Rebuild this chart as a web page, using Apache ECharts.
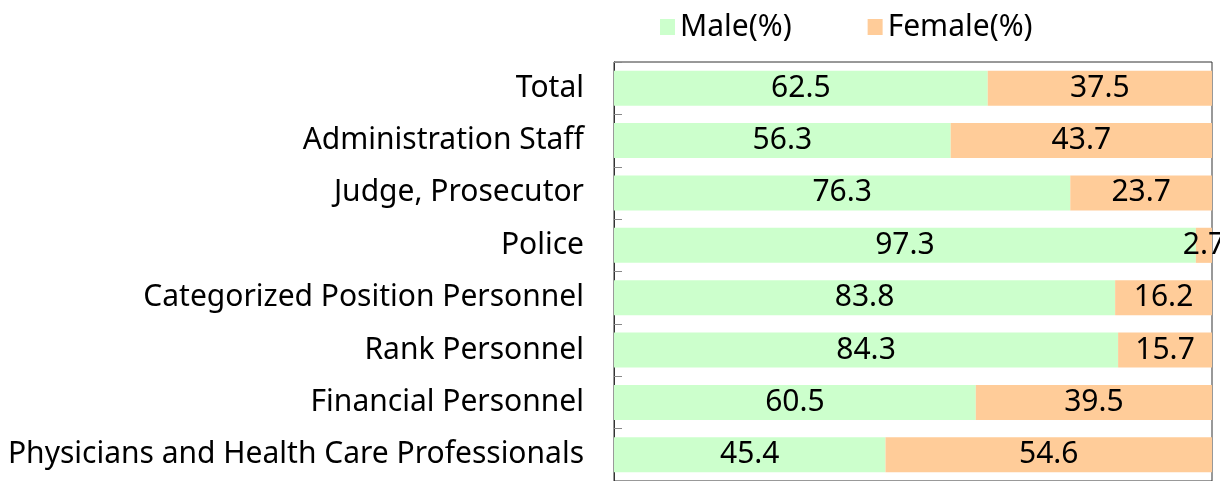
<!DOCTYPE html>
<html>
<head>
<meta charset="utf-8">
<script src="https://cdn.jsdelivr.net/npm/echarts@6/dist/echarts.min.js"></script>
<style>
  html, body { margin: 0; padding: 0; background: #fff; }
  #chart { width: 1220px; height: 481px; }
</style>
</head>
<body>
<div id="chart"></div>
<script>
// categories, top to bottom
const categories = [
  'Total',
  'Administration Staff',
  'Judge, Prosecutor',
  'Police',
  'Categorized Position Personnel',
  'Rank Personnel',
  'Financial Personnel',
  'Physicians and Health Care Professionals'
];
const maleValues = [62.5, 56.3, 76.3, 97.3, 83.8, 84.3, 60.5, 45.4];
const femaleValues = [37.5, 43.7, 23.7, 2.7, 16.2, 15.7, 39.5, 54.6];
const seriesNames = ['Male(%)', 'Female(%)'];

const FONT = '"Noto Sans", sans-serif';

const chart = echarts.init(document.getElementById('chart'));

const labelStyle = {
  show: true,
  position: 'inside',
  color: '#000',
  fontSize: 30,
  fontFamily: FONT
};

chart.setOption({
  animation: false,
  textStyle: { fontFamily: FONT },
  legend: {
    data: seriesNames,
    top: 7,
    left: 655,
    itemWidth: 15,
    itemHeight: 16,
    itemGap: 76,
    icon: 'rect',
    textStyle: { fontSize: 30, color: '#000', fontFamily: FONT }
  },
  grid: {
    left: 614,
    right: 8,
    top: 62,
    bottom: -3,
    show: true,
    borderColor: '#333',
    borderWidth: 1
  },
  xAxis: {
    type: 'value',
    min: 0,
    max: 100,
    show: false
  },
  yAxis: {
    type: 'category',
    data: categories,
    inverse: true,
    axisLine: { show: true, lineStyle: { color: '#333', width: 1 } },
    axisTick: { show: true, inside: true, length: 8, lineStyle: { color: '#888' } },
    axisLabel: { fontSize: 30, color: '#000', margin: 30, fontFamily: FONT }
  },
  series: [
    {
      name: seriesNames[0],
      type: 'bar',
      stack: 'total',
      barWidth: '67%',
      data: maleValues,
      itemStyle: { color: '#CCFFCC' },
      label: labelStyle
    },
    {
      name: seriesNames[1],
      type: 'bar',
      stack: 'total',
      barWidth: '67%',
      data: femaleValues,
      itemStyle: { color: '#FFCC99' },
      label: labelStyle
    }
  ]
});
</script>
</body>
</html>
